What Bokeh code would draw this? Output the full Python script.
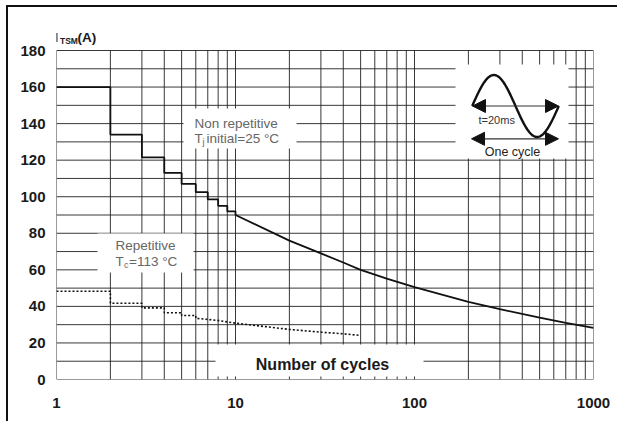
import numpy as np
from bokeh.plotting import figure
from bokeh.models import FixedTicker, Label, Arrow, NormalHead, Range1d, InlineStyleSheet
from bokeh.embed import file_html
from bokeh.resources import INLINE

# ---------------- data ----------------
nonrep_step_n = [1, 2, 3, 4, 5, 6, 7, 8, 9]
nonrep_step_i = [160, 134, 121.5, 113, 107, 102.5, 98.5, 95, 92]
nonrep_curve_n = [10, 20, 30, 40, 50, 70, 100, 200, 300, 500, 700, 1000]
nonrep_curve_i = [90, 76, 69, 64, 60, 55.2, 50.5, 42.5, 38.5, 33.8, 31, 28.3]

rep_step_n = [1, 2, 3, 4, 5]
rep_step_i = [48.3, 41.7, 39.2, 36.5, 35.0]
rep_curve_n = [6, 8, 10, 20, 30, 40, 50]
rep_curve_i = [33.5, 32.3, 30.8, 27.4, 25.9, 25.0, 24.1]

x_ticks = [1, 10, 100, 1000]
y_ticks = list(range(0, 181, 20))
x_grid = [1, 2, 3, 4, 5, 6, 7, 8, 9, 10, 20, 30, 40, 50, 60, 70, 80, 90, 100,
          200, 300, 400, 500, 600, 700, 800, 900, 1000]
y_grid = list(range(0, 181, 10))


def stepped(n, vals, curve_n, curve_i):
    xs, ys = [], []
    for k, v in enumerate(vals):
        nxt = n[k + 1] if k + 1 < len(n) else curve_n[0]
        xs += [n[k], nxt]
        ys += [v, v]
    return xs + list(curve_n), ys + list(curve_i)


# page geometry (pixels in the 621x427 window)
OFFX, OFFY = 8, 7            # figure content starts here (after the frame lines)
PX0, PX1, PY0, PY1 = 56, 593, 379, 50   # pixel positions of x=1, x=1000, y=0, y=180
W, H = 621 - OFFX - 2, 427 - OFFY - 4
YTOP = 180 * (PY0 - OFFY) / (PY0 - PY1)  # frame reaches the top of the figure

p = figure(width=W, height=H, x_axis_type="log", output_backend="svg",
           toolbar_location=None, title=None,
           x_range=Range1d(1, 1000), y_range=Range1d(0, YTOP),
           min_border_left=PX0 - OFFX, min_border_right=OFFX + W - PX1, min_border_top=0,
           min_border_bottom=OFFY + H - PY0)
p.stylesheets = [InlineStyleSheet(css=":host { margin-left: 6px; margin-top: 5px; "
                                      "border-left: 2px solid #111; border-top: 2px solid #111; }")]
p.background_fill_color = "white"
p.border_fill_color = "white"
p.outline_line_color = None
p.xgrid.visible = False
p.ygrid.visible = False


def dx(px):
    return 10 ** (3 * (px - PX0) / (PX1 - PX0))


def dy(py):
    return 180 * (PY0 - py) / (PY0 - PY1)


# grid (limited to the 0..180 / 1..1000 box)
p.segment(x0=x_grid, x1=x_grid, y0=[0] * len(x_grid), y1=[180] * len(x_grid),
          line_color="#222", line_width=1, line_alpha=0.9)
p.segment(x0=[1] * len(y_grid), x1=[1000] * len(y_grid), y0=y_grid, y1=y_grid,
          line_color="#222", line_width=1, line_alpha=0.9)

font = "Liberation Sans"
p.xaxis.ticker = FixedTicker(ticks=x_ticks)
p.xaxis.major_label_overrides = {t: str(t) for t in x_ticks}
p.yaxis.ticker = FixedTicker(ticks=y_ticks)
for ax in (p.xaxis, p.yaxis):
    ax.axis_line_color = None
    ax.major_tick_line_color = None
    ax.minor_tick_line_color = None
    ax.major_tick_in = 0
    ax.major_tick_out = 0
    ax.minor_tick_in = 0
    ax.minor_tick_out = 0
    ax.major_label_text_font = font
    ax.major_label_text_font_style = "bold"
    ax.major_label_text_font_size = "15px"
    ax.major_label_text_color = "#1a1a1a"
p.yaxis.major_label_standoff = 11
p.xaxis.major_label_standoff = 18

# white label backgrounds that interrupt the grid
boxes = [(183, 296, 108, 148), (97, 193, 233, 272), (215, 423, 344, 376), (455, 568, 64, 158)]
p.quad(left=[dx(b[0]) for b in boxes], right=[dx(b[1]) for b in boxes],
       top=[dy(b[2]) for b in boxes], bottom=[dy(b[3]) for b in boxes],
       fill_color="white", line_color=None)

nx, ny = stepped(nonrep_step_n, nonrep_step_i, nonrep_curve_n, nonrep_curve_i)
p.line(nx, ny, line_color="#111", line_width=1.8)
rx, ry = stepped(rep_step_n, rep_step_i, rep_curve_n, rep_curve_i)
p.line(rx, ry, line_color="#111", line_width=1.6, line_dash="2 2")

# inset: one sine cycle with arrows
t = np.linspace(0, 1, 80)
sx = 471.7 + 86.6 * t
sy = 105.5 - 31 * np.sin(2 * np.pi * t)
p.line([dx(v) for v in sx], [dy(v) for v in sy], line_color="#111", line_width=2.4)
for (xa, xb, yy) in [(472, 558, 105.5), (471, 558, 138.3)]:
    p.add_layout(Arrow(start=NormalHead(size=13, fill_color="#111", line_color="#111"),
                       end=NormalHead(size=13, fill_color="#111", line_color="#111"),
                       x_start=dx(xa), y_start=dy(yy), x_end=dx(xb), y_end=dy(yy),
                       line_color="#333", line_width=1.2))


def lab(px, py, text, size, color="#222", style="normal", align="left"):
    p.add_layout(Label(x=dx(px), y=dy(py), text=text, text_font=font,
                       text_font_size=size, text_color=color, text_font_style=style,
                       text_align=align, text_baseline="middle"))


lab(478, 119, "t=20ms", "11px", "#333")
lab(512, 151, "One cycle", "12.5px", "#222", align="center")

grey = "#666"
lab(194, 123, "Non repetitive", "13.5px", grey)
lab(194, 138, "T", "13.5px", grey)
lab(202, 141, "j", "9px", grey)
lab(206, 138, " initial=25 °C", "13.5px", grey)

lab(115, 245, "Repetitive", "13.5px", grey)
lab(115, 261, "T", "13.5px", grey)
lab(123.5, 264, "c", "9px", grey)
lab(128.5, 261, "=113 °C", "13.5px", grey)

lab(322, 364, "Number of cycles", "16px", "#1a1a1a", "bold", "center")

# y-axis title I_TSM(A)
lab(54, 37, "I", "13.5px", "#1a1a1a", "bold")
lab(59.5, 40, "TSM", "8.5px", "#1a1a1a", "bold")
lab(77, 37, "(A)", "13.5px", "#1a1a1a", "bold")

open("out.html", "w").write(file_html(p, INLINE))
